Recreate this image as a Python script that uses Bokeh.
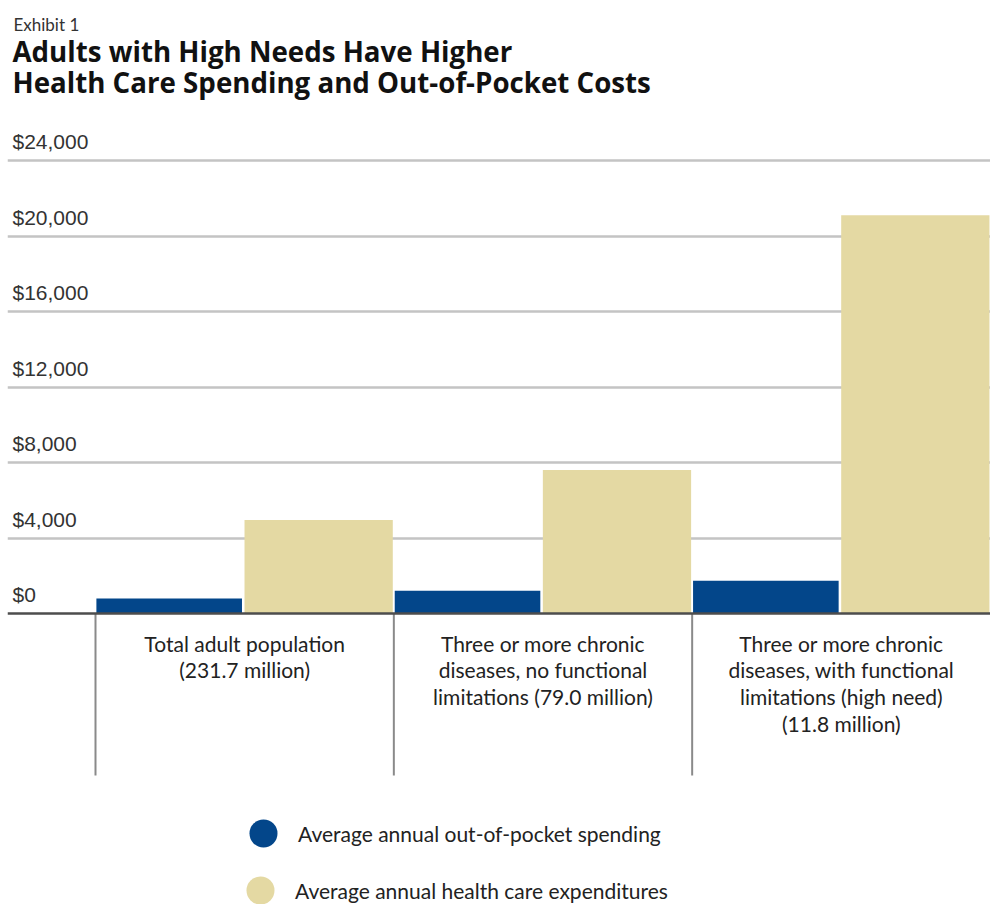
from bokeh.plotting import figure
from bokeh.models import Range1d, Span, Label, Legend, LegendItem, FixedTicker
from bokeh.core.properties import value
from bokeh.embed import file_html
from bokeh.resources import INLINE

# ---- data ----
categories = [
    "Total adult population\n(231.7 million)",
    "Three or more chronic\ndiseases, no functional\nlimitations (79.0 million)",
    "Three or more chronic\ndiseases, with functional\nlimitations (high need)\n(11.8 million)",
]
out_of_pocket = [790, 1200, 1730]
expenditures = [4950, 7600, 21100]
y_ticks = [0, 4000, 8000, 12000, 16000, 20000, 24000]
y_tick_labels = ["$0", "$4,000", "$8,000", "$12,000", "$16,000", "$20,000", "$24,000"]
series_names = ["Average annual out-of-pocket spending",
                "Average annual health care expenditures"]

BLUE = "#03468a"
BEIGE = "#e4d9a3"

W, H = 990, 904
LEFT = 7
zero_px = 613.0           # canvas y of $0
top_px = 160.0            # canvas y of $24,000
k = (zero_px - top_px) / 24000.0   # px per dollar
group_left_px = 95.0
group_w_px = (W - group_left_px) / len(categories)

x_start = -0.5 - (group_left_px - LEFT) / group_w_px
x_end = len(categories) - 0.5
y_start = -(H - zero_px) / k
y_end = zero_px / k

p = figure(width=W, height=H, output_backend="svg", toolbar_location=None,
           x_range=Range1d(x_start, x_end), y_range=Range1d(y_start, y_end),
           x_axis_location=None, y_axis_location=None,
           min_border=0, min_border_left=LEFT)
p.outline_line_color = None
p.background_fill_color = "white"
p.border_fill_color = "white"
p.xgrid.visible = False
p.ygrid.ticker = FixedTicker(ticks=y_ticks[1:])
p.ygrid.grid_line_color = "#c4c4c4"
p.ygrid.grid_line_width = 2.5

xs = list(range(len(categories)))
x_blue = [x - 0.253 for x in xs]
x_beige = [x + 0.248 for x in xs]

p.vbar(x=x_blue, top=out_of_pocket, bottom=0, width=0.488, fill_color=BLUE, line_color=None)
p.vbar(x=x_beige, top=expenditures, bottom=0, width=0.497, fill_color=BEIGE, line_color=None)

# zero baseline
p.add_layout(Span(location=0, dimension="width", line_color="#4d4d4d", line_width=2.5))

# category separators
sep_depth = (775 - zero_px) / k
sep_x = [x - 0.5 for x in xs]
p.segment(x0=sep_x, x1=sep_x, y0=[0] * len(sep_x), y1=[-sep_depth] * len(sep_x),
          line_color="#8a8a8a", line_width=2)

# category labels
p.text(x=xs, y=[0] * len(xs), text=categories, text_align="center", text_baseline="top",
       y_offset=17, text_font=value("Lato"), text_font_size="21px", text_color="#222222",
       text_line_height=1.075)

# y tick labels
p.text(x=[x_start] * len(y_ticks), y=y_ticks, text=y_tick_labels, text_align="left",
       text_baseline="alphabetic", x_offset=5, y_offset=-19,
       text_font=value("Liberation Sans"), text_font_size="21px", text_color="#333333")

# titles
p.add_layout(Label(x=6, y=H - 24, x_units="screen", y_units="screen", text="Exhibit 1",
                   text_font="Lato", text_font_size="17px", text_color="#333333",
                   text_baseline="alphabetic"))
p.add_layout(Label(x=5, y=H - 50, x_units="screen", y_units="screen",
                   text="Adults with High Needs Have Higher",
                   text_font="Open Sans", text_font_size="27.7px", text_font_style="bold",
                   text_color="#111111", text_baseline="alphabetic"))
p.add_layout(Label(x=5, y=H - 81, x_units="screen", y_units="screen",
                   text="Health Care Spending and Out-of-Pocket Costs",
                   text_font="Open Sans", text_font_size="27.7px", text_font_style="bold",
                   text_color="#111111", text_baseline="alphabetic"))

# legend (circle markers), one legend per entry so each row can be placed like the original
r1 = p.scatter(x=x_blue[:1], y=out_of_pocket[:1], size=0, marker="circle",
               fill_color=BLUE, line_color=None)
r2 = p.scatter(x=x_beige[:1], y=expenditures[:1], size=0, marker="circle",
               fill_color=BEIGE, line_color=None)
GLYPH = 70
for r, name, cx, cy in [(r1, series_names[0], 263, 833), (r2, series_names[1], 260, 890)]:
    lg = Legend(items=[LegendItem(label=name, renderers=[r])],
                location=(cx - GLYPH / 2 - LEFT, H - (cy - GLYPH / 2) - GLYPH),
                glyph_width=GLYPH, glyph_height=GLYPH, padding=0, margin=0,
                label_standoff=0, border_line_color=None, background_fill_alpha=0,
                label_text_font="Lato", label_text_font_size="21px",
                label_text_color="#222222")
    p.add_layout(lg)

open("out.html", "w").write(file_html(p, INLINE))
